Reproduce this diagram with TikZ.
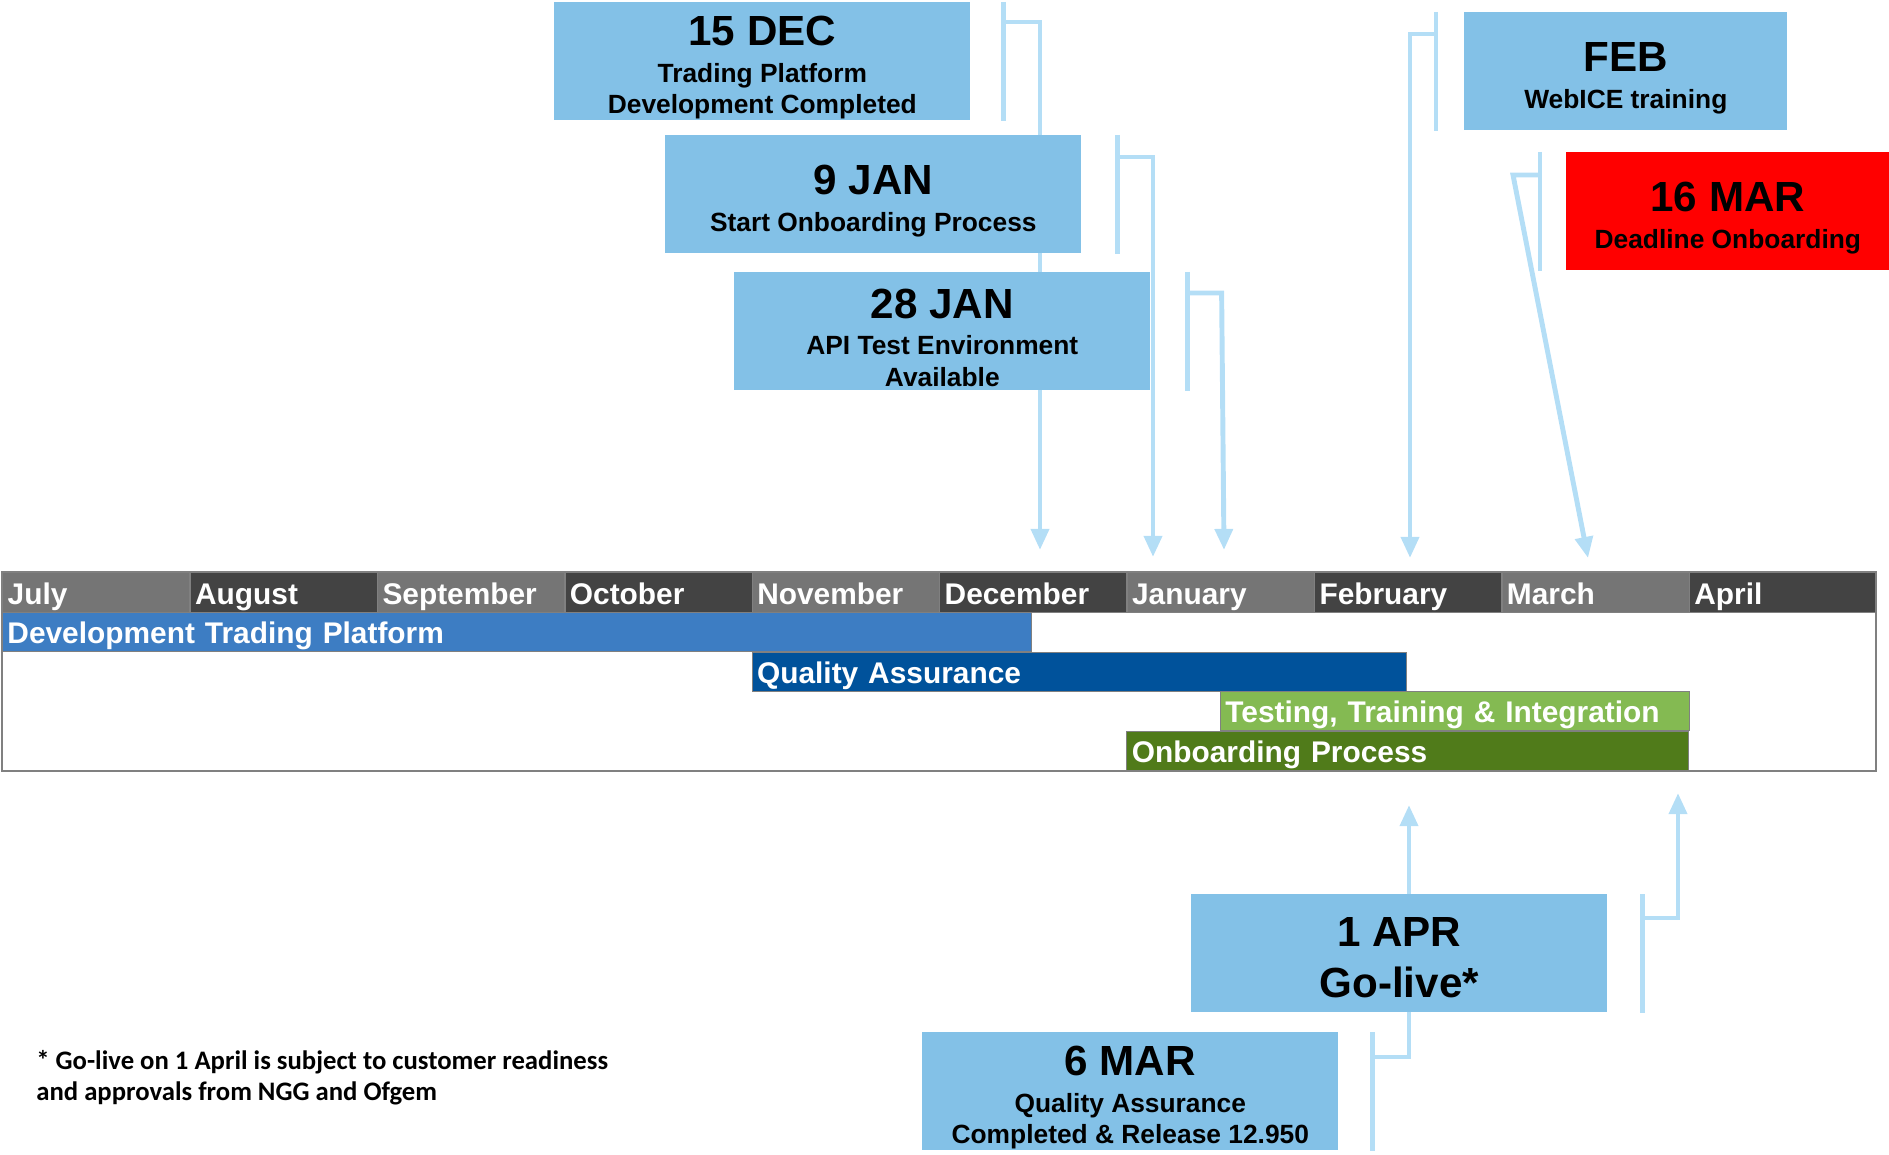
\documentclass[tikz,border=0pt]{standalone}
\usepackage{fontspec}
\setmainfont{Liberation Sans}
\newfontfamily\notefont{Carlito}
\usetikzlibrary{arrows.meta,calc,backgrounds}

\definecolor{boxblue}{RGB}{131,193,231}
\definecolor{linkblue}{RGB}{180,222,246}
\definecolor{mdark}{RGB}{67,67,67}
\definecolor{mlight}{RGB}{117,117,117}
\definecolor{gridgrey}{RGB}{128,128,128}
\definecolor{devblue}{RGB}{61,125,195}
\definecolor{qablue}{RGB}{0,82,155}
\definecolor{testgreen}{RGB}{132,186,82}
\definecolor{onbgreen}{RGB}{80,123,26}

\newcommand{\bigdate}[1]{{\fontsize{24}{24}\selectfont\rule{0pt}{24pt}#1}}

\tikzset{
  milestone/.style={fill=boxblue, anchor=north west, inner sep=0pt,
    minimum width=8.32cm, minimum height=2.36cm, align=center,
    font=\fontsize{15}{18}\selectfont\bfseries},
  month/.style={draw=gridgrey, line width=0.8pt, anchor=north west,
    inner xsep=0.1cm, inner ysep=0pt, text width=3.548cm, minimum height=0.8cm,
    text height=14.3pt, text depth=1.2pt, align=left, text=white,
    font=\fontsize{17}{17}\selectfont\bfseries},
  bar/.style={draw=gridgrey, line width=0.5pt, anchor=north west,
    inner xsep=0.1cm, inner ysep=0pt, minimum height=0.79cm,
    text height=14pt, text depth=1.5pt, align=left, text=white,
    font=\fontsize{17}{17}\selectfont\bfseries},
  link/.style={draw=linkblue, line width=2.8pt}
}

\begin{document}
\begin{tikzpicture}[x=0.02cm, y=-0.02cm, >={Triangle[length=12pt,width=10pt]}]
    \useasboundingbox (0,0) rectangle (1889,1155);
    \node [milestone] (dec15) at (554,2) {\bigdate{15 DEC}\\[3pt]Trading Platform\\Development Completed};
    \node [milestone] (jan9) at (665,135) {\bigdate{9 JAN}\\[3pt]Start Onboarding Process};
    \node [milestone] (jan28) at (734,272) {\bigdate{28 JAN}\\[3pt]API Test Environment\\Available};
    \node [milestone, minimum width=6.46cm] (feb) at (1464,12) {\bigdate{FEB}\\[3pt]WebICE training};
    \node [milestone, minimum width=6.46cm, fill=red] (mar16) at (1566,152) {\bigdate{16 MAR}\\[3pt]Deadline Onboarding};
    \node [milestone, font=\fontsize{24}{29}\selectfont\bfseries] (apr1) at (1191,894) {\rule{0pt}{21pt}1 APR\\Go-live*};
    \node [milestone] (mar6) at (922,1032) {\bigdate{6 MAR}\\[3pt]Quality Assurance\\Completed \& Release 12.950};
    \node [month, fill=mlight] (jul) at (2,572) {July};
    \node [month, fill=mdark] (aug) at (189.4,572) {August};
    \node [month, fill=mlight] (sep) at (376.8,572) {September};
    \node [month, fill=mdark] (oct) at (564.2,572) {October};
    \node [month, fill=mlight] (nov) at (751.6,572) {November};
    \node [month, fill=mdark] (dec) at (939,572) {December};
    \node [month, fill=mlight] (jan) at (1126.4,572) {January};
    \node [month, fill=mdark] (febm) at (1313.8,572) {February};
    \node [month, fill=mlight] (mar) at (1501.2,572) {March};
    \node [month, fill=mdark] (apr) at (1688.6,572) {April};
    \node [bar, fill=devblue, text width=20.39cm] (dev) at (2,612) {Development Trading Platform};
    \node [bar, fill=qablue, text width=12.9cm] (qa) at (751.6,652) {Quality Assurance};
    \node [bar, fill=testgreen, text width=9.18cm] (test) at (1220,691) {Testing, Training \& Integration};
    \node [bar, fill=onbgreen, text width=11.04cm] (onb) at (1126.4,731) {Onboarding Process};
    \coordinate (chartend) at (1876,771);
    \draw [gridgrey, line width=1.2pt] (jul.north west) rectangle (chartend);
    \node [anchor=north west, align=left, inner sep=0pt, font=\notefont\bfseries\fontsize{15.2}{17.6}\selectfont] (note) at (36,1050) {* Go-live on 1 April is subject to customer readiness\\and approvals from NGG and Ofgem};
    \coordinate (dec15tip) at (1040,550);
    \coordinate (jan9tip) at (1153,557);
    \coordinate (jan28tip) at (1224,550);
    \coordinate (febtip) at (1410,558);
    \coordinate (mar16tip) at (1588,558);
    \coordinate (mar6tip) at (1409,805);
    \coordinate (apr1tip) at (1678,793);
    \begin{scope}[on background layer]
    \draw [link] ($(dec15.north east)+(33,0)$) -- ($(dec15.south east)+(33,0)$);
    \draw [link, ->] ($(dec15.north east)+(33,20)$) -| (dec15tip);
    \draw [link] ($(jan9.north east)+(36,0)$) -- ($(jan9.south east)+(36,0)$);
    \draw [link, ->] ($(jan9.north east)+(36,22)$) -| (jan9tip);
    \draw [link] ($(jan28.north east)+(37,0)$) -- ($(jan28.south east)+(37,0)$);
    \draw [link, ->] ($(jan28.north east)+(37,21)$) -- ++(34,0) -- (jan28tip);
    \draw [link] ($(feb.north west)+(-28,0)$) -- ($(feb.south west)+(-28,0)$);
    \draw [link, ->] ($(feb.north west)+(-28,22)$) -| (febtip);
    \draw [link] ($(mar16.north west)+(-26,0)$) -- ($(mar16.south west)+(-26,0)$);
    \draw [link, ->] ($(mar16.north west)+(-26,23)$) -- ++(-27,0) -- (mar16tip);
    \draw [link] ($(apr1.north east)+(35,0)$) -- ($(apr1.south east)+(35,0)$);
    \draw [link, ->] ($(apr1.north east)+(35,24)$) -| (apr1tip);
    \draw [link] ($(mar6.north east)+(34,0)$) -- ($(mar6.south east)+(34,0)$);
    \draw [link, ->] ($(mar6.north east)+(34,25)$) -| (mar6tip);
    \end{scope}
\end{tikzpicture}
\end{document}
